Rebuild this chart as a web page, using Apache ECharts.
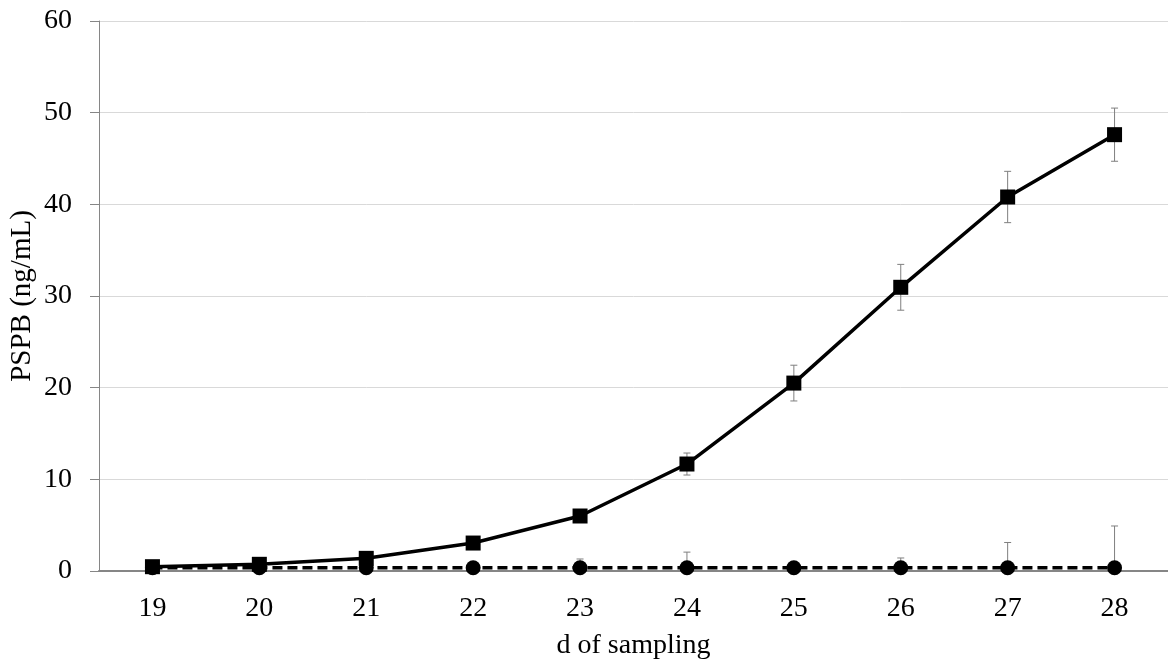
<!DOCTYPE html>
<html>
<head>
<meta charset="utf-8">
<script src="https://cdn.jsdelivr.net/npm/echarts@6/dist/echarts.min.js"></script>
<style>html,body{margin:0;padding:0;background:#fff;}#c{width:1168px;height:664px;}</style>
</head>
<body>
<div id="c"></div>
<script>
var categories = ['19','20','21','22','23','24','25','26','27','28'];
var squareValues = [0.47, 0.73, 1.38, 3.05, 6.0, 11.67, 20.5, 30.95, 40.8, 47.6];
var squareErrors = [0, 0, 0, 0, 0, 1.2, 1.95, 2.5, 2.8, 2.9];
var circleValues = [0.36, 0.36, 0.36, 0.36, 0.36, 0.36, 0.36, 0.36, 0.36, 0.36];
var circleErrors = [0, 0, 0, 0, 0.95, 1.7, 0, 1.06, 2.75, 4.55];
var yTicks = [0, 10, 20, 30, 40, 50, 60];

var FONT = '"Liberation Serif", "Times New Roman", serif';

function errData(vals, errs) {
  return vals.map(function (v, i) { return [i, v - errs[i], v + errs[i], errs[i]]; });
}
function renderErr(params, api) {
  if (api.value(3) <= 0) return;
  var lo = api.coord([api.value(0), api.value(1)]);
  var hi = api.coord([api.value(0), api.value(2)]);
  var x = lo[0], cap = 3.5;
  var st = {stroke: '#7f7f7f', lineWidth: 1};
  return {
    type: 'group',
    children: [
      {type: 'line', shape: {x1: x, y1: lo[1], x2: x, y2: hi[1]}, style: st},
      {type: 'line', shape: {x1: x - cap, y1: hi[1], x2: x + cap, y2: hi[1]}, style: st},
      {type: 'line', shape: {x1: x - cap, y1: lo[1], x2: x + cap, y2: lo[1]}, style: st}
    ]
  };
}

var chart = echarts.init(document.getElementById('c'));
chart.setOption({
  animation: false,
  backgroundColor: '#fff',
  grid: {left: 99, right: 0, top: 21, bottom: 93, containLabel: false, outerBoundsMode: 'none'},
  xAxis: {
    type: 'category',
    data: categories,
    boundaryGap: true,
    name: 'd of sampling',
    nameLocation: 'middle',
    nameGap: 61,
    nameMoveOverlap: false,
    nameTextStyle: {fontFamily: FONT, fontSize: 28, color: '#000'},
    axisLine: {show: true, onZero: false, lineStyle: {color: '#868686', width: 2}},
    axisTick: {show: false},
    axisLabel: {fontFamily: FONT, fontSize: 28, color: '#000', margin: 24},
    splitLine: {show: false}
  },
  yAxis: {
    type: 'value',
    min: yTicks[0],
    max: yTicks[yTicks.length - 1],
    interval: 10,
    name: 'PSPB (ng/mL)',
    nameLocation: 'middle',
    nameGap: 62,
    nameMoveOverlap: false,
    nameTextStyle: {fontFamily: FONT, fontSize: 29, color: '#000'},
    axisLine: {show: true, lineStyle: {color: '#868686', width: 1}},
    axisTick: {show: true, inside: false, length: 9, lineStyle: {color: '#868686', width: 1}},
    axisLabel: {fontFamily: FONT, fontSize: 28, color: '#000', margin: 27},
    splitLine: {show: true, lineStyle: {color: '#d9d9d9', width: 1}}
  },
  series: [
    {
      type: 'custom',
      renderItem: renderErr,
      data: errData(circleValues, circleErrors),
      encode: {x: 0, y: [1, 2]},
      clip: true,
      z: 1
    },
    {
      type: 'custom',
      renderItem: renderErr,
      data: errData(squareValues, squareErrors),
      encode: {x: 0, y: [1, 2]},
      clip: true,
      z: 1
    },
    {
      type: 'line',
      data: circleValues,
      symbol: 'circle',
      symbolSize: 15,
      itemStyle: {color: '#000'},
      lineStyle: {color: '#000', width: 3.5, type: [10, 5]},
      z: 3
    },
    {
      type: 'line',
      data: squareValues,
      symbol: 'rect',
      symbolSize: 15,
      itemStyle: {color: '#000'},
      lineStyle: {color: '#000', width: 3.5},
      z: 4
    }
  ]
});
</script>
</body>
</html>
